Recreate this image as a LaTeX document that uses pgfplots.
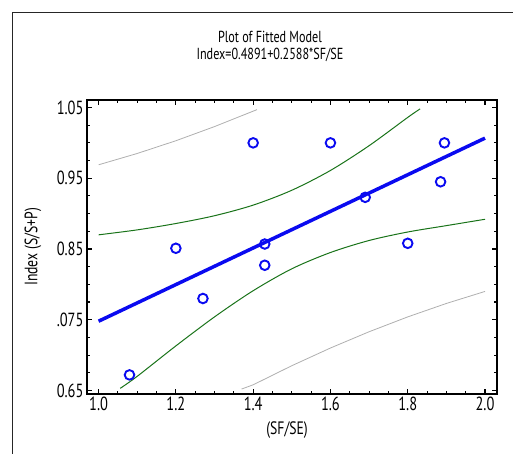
\documentclass[border=0pt]{standalone}
\usepackage{fontspec}
\setmainfont[FakeStretch=0.76]{PT Sans}
\usepackage{pgfplots}
\pgfplotsset{compat=1.18}
\definecolor{fitblue}{RGB}{10,10,240}
\definecolor{cigreen}{RGB}{25,115,25}
\definecolor{pigray}{RGB}{175,175,175}
\begin{document}
\begin{tikzpicture}
\useasboundingbox (0,0) rectangle (513bp,454bp);
\draw[line width=0.9bp, black!85] (12bp,0) -- (12bp,441.5bp) -- (513bp,441.5bp);
\node[align=center, font=\fontsize{16bp}{17.5bp}\selectfont] at (270bp,407.5bp)
  {Plot of Fitted Model\\Index=0.4891+0.2588*SF/SE};
\begin{axis}[
  at={(87bp,60bp)}, anchor=south west,
  scale only axis, width=410bp, height=294bp,
  xmin=0.97, xmax=2.031, ymin=0.645, ymax=1.0606,
  xtick={1.0,1.2,1.4,1.6,1.8,2.0},
  xticklabels={1.0,1.2,1.4,1.6,1.8,2.0},
  ytick={0.65,0.75,0.85,0.95,1.05},
  yticklabels={0.65,.075,0.85,0.95,1.05},
  minor x tick num=3, minor y tick num=3,
  tick align=inside, tick pos=both,
  major tick length=5bp, minor tick length=3bp,
  axis line style={line width=1.3bp},
  every tick/.style={black, line width=1.1bp},
  /pgf/number format/assume math mode=true,
  ticklabel style={font=\fontsize{19bp}{21bp}\selectfont},
  xticklabel style={yshift=1bp},
  xlabel={(SF/SE)},
  ylabel={Index (S/S+P)},
  label style={font=\fontsize{18bp}{20bp}\selectfont},
  xlabel style={at={(axis description cs:0.488,-0.1224)}, anchor=center},
  ylabel style={at={(axis description cs:-0.1317,0.5)}, anchor=center},
]
% prediction limits
\addplot[pigray, line width=0.8bp] coordinates {
  (1.0,0.969) (1.1,0.985) (1.2,1.003) (1.3,1.023) (1.41,1.047)
};
\addplot[pigray, line width=0.8bp] coordinates {
  (1.37,0.652) (1.4,0.658) (1.5,0.685) (1.6,0.710) (1.7,0.733)
  (1.8,0.754) (1.9,0.773) (2.0,0.790)
};
% confidence limits
\addplot[cigreen, line width=1bp, smooth] coordinates {
  (1.0,0.870) (1.1,0.877) (1.2,0.886) (1.3,0.897) (1.4,0.912)
  (1.5,0.933) (1.6,0.961) (1.7,0.996) (1.8,1.036) (1.832,1.048)
};
\addplot[cigreen, line width=1bp, smooth] coordinates {
  (1.056,0.653) (1.1,0.670) (1.2,0.713) (1.3,0.754) (1.4,0.791)
  (1.5,0.822) (1.6,0.845) (1.7,0.862) (1.8,0.874) (1.9,0.883) (2.0,0.892)
};
% fitted line
\addplot[fitblue, line width=3.5bp] coordinates {(1.0,0.7479) (2.0,1.0067)};
% observations
\addplot[only marks, mark=o, mark size=4.8bp,
  mark options={line width=1.9bp, draw=fitblue}] coordinates {
  (1.08,0.672) (1.20,0.851) (1.27,0.780) (1.40,1.000) (1.43,0.857)
  (1.43,0.827) (1.60,1.000) (1.69,0.923) (1.80,0.858) (1.885,0.945)
  (1.895,1.000)
};
\end{axis}
\end{tikzpicture}
\end{document}
